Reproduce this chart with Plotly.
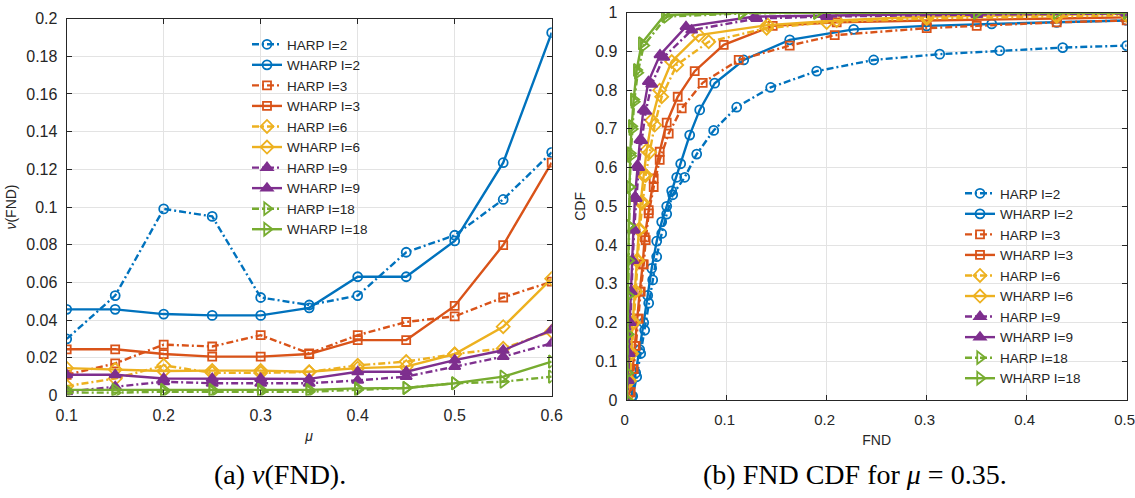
import plotly.graph_objects as go

# ---------------- data: left panel nu(FND) vs mu ----------------
mu = [0.1, 0.15, 0.2, 0.25, 0.3, 0.35, 0.4, 0.45, 0.5, 0.55, 0.6]
harp_2 = [0.030, 0.053, 0.099, 0.095, 0.052, 0.048, 0.053, 0.076, 0.085, 0.104, 0.129]
wharp_2 = [0.0457, 0.0457, 0.0432, 0.0425, 0.0425, 0.0465, 0.063, 0.063, 0.082, 0.1235, 0.1925]
harp_3 = [0.011, 0.017, 0.027, 0.026, 0.032, 0.0224, 0.032, 0.039, 0.042, 0.052, 0.0604]
wharp_3 = [0.0245, 0.0245, 0.022, 0.0206, 0.0206, 0.022, 0.0294, 0.0294, 0.0475, 0.0798, 0.1235]
harp_6 = [0.005, 0.009, 0.016, 0.012, 0.012, 0.0125, 0.016, 0.018, 0.022, 0.025, 0.034]
wharp_6 = [0.0145, 0.0138, 0.013, 0.0132, 0.0132, 0.0126, 0.0145, 0.0153, 0.022, 0.0365, 0.062]
harp_9 = [0.002, 0.0047, 0.0073, 0.0065, 0.0065, 0.0065, 0.008, 0.010, 0.0153, 0.0206, 0.0277]
wharp_9 = [0.011, 0.011, 0.009, 0.009, 0.009, 0.0088, 0.0126, 0.0126, 0.0188, 0.024, 0.0347]
harp_18 = [0.0015, 0.0015, 0.002, 0.002, 0.002, 0.002, 0.003, 0.004, 0.0065, 0.0073, 0.010]
wharp_18 = [0.003, 0.003, 0.003, 0.003, 0.003, 0.003, 0.0038, 0.004, 0.0065, 0.010, 0.018]

# ---------------- data: right panel CDF of FND ----------------
cdf_x_harp_2 = [0, 0.006, 0.010, 0.014, 0.018, 0.022, 0.026, 0.030, 0.035, 0.040, 0.046, 0.058, 0.070, 0.087, 0.110, 0.144, 0.190, 0.247, 0.313, 0.373, 0.436, 0.5]
cdf_y_harp_2 = [0, 0.01, 0.06, 0.12, 0.18, 0.25, 0.31, 0.37, 0.43, 0.48, 0.53, 0.575, 0.635, 0.696, 0.756, 0.807, 0.849, 0.878, 0.893, 0.902, 0.910, 0.915]
cdf_x_wharp_2 = [0, 0.005, 0.009, 0.013, 0.017, 0.021, 0.025, 0.030, 0.035, 0.040, 0.045, 0.050, 0.054, 0.063, 0.073, 0.088, 0.117, 0.163, 0.227, 0.300, 0.365, 0.430, 0.5]
cdf_y_wharp_2 = [0, 0.01, 0.07, 0.13, 0.20, 0.27, 0.34, 0.41, 0.46, 0.50, 0.54, 0.575, 0.61, 0.684, 0.749, 0.818, 0.878, 0.930, 0.957, 0.966, 0.971, 0.975, 0.980]
cdf_x_harp_3 = [0, 0.004, 0.007, 0.009, 0.012, 0.014, 0.017, 0.019, 0.022, 0.027, 0.033, 0.042, 0.055, 0.076, 0.112, 0.163, 0.208, 0.300, 0.350, 0.430, 0.5]
cdf_y_harp_3 = [0, 0.02, 0.08, 0.14, 0.21, 0.28, 0.35, 0.413, 0.482, 0.55, 0.62, 0.688, 0.753, 0.819, 0.878, 0.915, 0.942, 0.960, 0.966, 0.975, 0.980]
cdf_x_wharp_3 = [0, 0.003, 0.006, 0.008, 0.011, 0.013, 0.016, 0.018, 0.022, 0.027, 0.033, 0.040, 0.051, 0.068, 0.097, 0.146, 0.210, 0.300, 0.430, 0.5]
cdf_y_wharp_3 = [0, 0.02, 0.08, 0.14, 0.21, 0.28, 0.35, 0.42, 0.49, 0.572, 0.641, 0.716, 0.783, 0.849, 0.917, 0.966, 0.975, 0.980, 0.985, 0.988]
cdf_x_harp_6 = [0, 0.003, 0.005, 0.007, 0.009, 0.011, 0.013, 0.016, 0.019, 0.023, 0.028, 0.035, 0.050, 0.082, 0.140, 0.200, 0.300, 0.430, 0.5]
cdf_y_harp_6 = [0, 0.05, 0.12, 0.20, 0.28, 0.36, 0.44, 0.51, 0.58, 0.64, 0.71, 0.783, 0.865, 0.925, 0.960, 0.975, 0.985, 0.990, 0.993]
cdf_x_wharp_6 = [0, 0.002, 0.004, 0.006, 0.008, 0.010, 0.012, 0.014, 0.017, 0.020, 0.025, 0.033, 0.045, 0.072, 0.141, 0.210, 0.300, 0.430, 0.5]
cdf_y_wharp_6 = [0, 0.05, 0.12, 0.20, 0.28, 0.36, 0.44, 0.51, 0.58, 0.645, 0.722, 0.80, 0.874, 0.942, 0.968, 0.980, 0.990, 0.995, 0.997]
cdf_x_harp_9 = [0, 0.0015, 0.0025, 0.0035, 0.0045, 0.006, 0.0075, 0.0095, 0.012, 0.015, 0.019, 0.025, 0.037, 0.065, 0.130, 0.200, 0.350, 0.5]
cdf_y_harp_9 = [0, 0.05, 0.12, 0.20, 0.28, 0.36, 0.44, 0.52, 0.60, 0.67, 0.745, 0.815, 0.885, 0.955, 0.985, 0.990, 0.995, 0.998]
cdf_x_wharp_9 = [0, 0.001, 0.002, 0.003, 0.004, 0.005, 0.0067, 0.0083, 0.0107, 0.0133, 0.0167, 0.0217, 0.0333, 0.0593, 0.128, 0.200, 0.350, 0.5]
cdf_y_wharp_9 = [0, 0.05, 0.12, 0.20, 0.28, 0.36, 0.438, 0.525, 0.606, 0.672, 0.749, 0.822, 0.891, 0.964, 0.990, 0.993, 0.998, 1.0]
cdf_x_harp_18 = [0, 0.0007, 0.0012, 0.0015, 0.0019, 0.0024, 0.003, 0.004, 0.0055, 0.0075, 0.011, 0.017, 0.040, 0.115, 0.190, 0.350, 0.5]
cdf_y_harp_18 = [0, 0.07, 0.17, 0.27, 0.36, 0.45, 0.55, 0.63, 0.70, 0.77, 0.845, 0.915, 0.990, 0.998, 1.0, 1.0, 1.0]
cdf_x_wharp_18 = [0, 0.0005, 0.001, 0.0013, 0.0016, 0.002, 0.0025, 0.0035, 0.005, 0.007, 0.010, 0.015, 0.038, 0.115, 0.190, 0.350, 0.430, 0.5]
cdf_y_wharp_18 = [0, 0.07, 0.17, 0.27, 0.36, 0.45, 0.55, 0.637, 0.707, 0.776, 0.852, 0.921, 0.994, 1.0, 1.0, 1.0, 1.0, 1.0]

series_names = ["HARP I=2", "WHARP I=2", "HARP I=3", "WHARP I=3", "HARP I=6",
                "WHARP I=6", "HARP I=9", "WHARP I=9", "HARP I=18", "WHARP I=18"]

left_ticks = [0, 0.02, 0.04, 0.06, 0.08, 0.1, 0.12, 0.14, 0.16, 0.18, 0.2]
left_ticktext = ["0", "0.02", "0.04", "0.06", "0.08", "0.1", "0.12", "0.14", "0.16", "0.18", "0.2"]
mu_ticks = [0.1, 0.2, 0.3, 0.4, 0.5, 0.6]
mu_ticktext = ["0.1", "0.2", "0.3", "0.4", "0.5", "0.6"]
fnd_ticks = [0, 0.1, 0.2, 0.3, 0.4, 0.5]
fnd_ticktext = ["0", "0.1", "0.2", "0.3", "0.4", "0.5"]
cdf_ticks = [0, 0.1, 0.2, 0.3, 0.4, 0.5, 0.6, 0.7, 0.8, 0.9, 1]
cdf_ticktext = ["0", "0.1", "0.2", "0.3", "0.4", "0.5", "0.6", "0.7", "0.8", "0.9", "1"]

# ---------------- styling ----------------
colors = ["#0072BD", "#D95319", "#EDB120", "#7E2F8E", "#77AC30"]
symbols = ["circle-open", "square-open", "diamond-open", "triangle-up", "triangle-right-open"]
msizes = [9, 8, 10, 10, 11]
DASHDOT = "7px,3px,2px,3px"

left_series = [harp_2, wharp_2, harp_3, wharp_3, harp_6, wharp_6, harp_9, wharp_9, harp_18, wharp_18]
right_series = [
    (cdf_x_harp_2, cdf_y_harp_2), (cdf_x_wharp_2, cdf_y_wharp_2),
    (cdf_x_harp_3, cdf_y_harp_3), (cdf_x_wharp_3, cdf_y_wharp_3),
    (cdf_x_harp_6, cdf_y_harp_6), (cdf_x_wharp_6, cdf_y_wharp_6),
    (cdf_x_harp_9, cdf_y_harp_9), (cdf_x_wharp_9, cdf_y_wharp_9),
    (cdf_x_harp_18, cdf_y_harp_18), (cdf_x_wharp_18, cdf_y_wharp_18),
]

fig = go.Figure()

for i, name in enumerate(series_names):
    g = i // 2
    dash = DASHDOT if i % 2 == 0 else "solid"
    fig.add_trace(go.Scatter(
        x=mu, y=left_series[i], name=name, mode="lines+markers",
        xaxis="x", yaxis="y", legend="legend",
        line=dict(color=colors[g], width=2.4, dash=dash),
        marker=dict(symbol=symbols[g], size=msizes[g], color=colors[g],
                    line=dict(color=colors[g], width=1.8)),
    ))

for i, name in enumerate(series_names):
    g = i // 2
    dash = DASHDOT if i % 2 == 0 else "solid"
    xs, ys = right_series[i]
    fig.add_trace(go.Scatter(
        x=xs, y=ys, name=name, mode="lines+markers",
        xaxis="x2", yaxis="y2", legend="legend2",
        line=dict(color=colors[g], width=2.4, dash=dash),
        marker=dict(symbol=symbols[g], size=msizes[g], color=colors[g],
                    line=dict(color=colors[g], width=1.8)),
    ))

W, H = 1135, 498
axcol = "#262626"
gridcol = "#e3e3e3"
tickfont = dict(family="Liberation Sans, Arial, sans-serif", size=16, color=axcol)
tickfont_x2 = dict(family="Liberation Sans, Arial, sans-serif", size=15, color=axcol)

common = dict(showline=True, linecolor=axcol, linewidth=1.2, mirror="allticks",
              ticks="inside", ticklen=5, tickcolor=axcol, tickwidth=1,
              showgrid=True, gridcolor=gridcol, gridwidth=1, zeroline=False,
              automargin=False, ticklabeloverflow="allow")

fig.update_layout(
    width=W, height=H,
    margin=dict(l=0, r=0, t=0, b=0),
    paper_bgcolor="white", plot_bgcolor="white",
    font=dict(family="Liberation Sans, Arial, sans-serif", color=axcol),
    xaxis=dict(domain=[66.7 / W, 551.7 / W], range=[0.1, 0.6],
               tickvals=mu_ticks, ticktext=mu_ticktext, anchor="y",
               ticklabelstandoff=5, tickfont=tickfont,
               title=dict(text="<i>μ</i>", font=dict(size=14, color=axcol), standoff=8),
               **common),
    yaxis=dict(domain=[(H - 395.5) / H, (H - 18.5) / H], range=[0, 0.2],
               tickvals=left_ticks, ticktext=left_ticktext, anchor="x",
               ticklabelstandoff=5, tickfont=tickfont,
               title=dict(text="<i>ν</i>(FND)", font=dict(size=14, color=axcol), standoff=6),
               **common),
    xaxis2=dict(domain=[626.7 / W, 1126.7 / W], range=[0, 0.5],
                tickvals=fnd_ticks, ticktext=fnd_ticktext, anchor="y2",
                ticklabelstandoff=6, tickfont=tickfont_x2, ticklabelshift=-2,
                title=dict(text="FND", font=dict(size=14, color=axcol), standoff=8),
                **common),
    yaxis2=dict(domain=[(H - 400) / H, (H - 12.7) / H], range=[0, 1],
                tickvals=cdf_ticks, ticktext=cdf_ticktext, anchor="x2",
                ticklabelstandoff=5, tickfont=tickfont,
                title=dict(text="CDF", font=dict(size=14, color=axcol), standoff=6),
                **common),
    legend=dict(x=247 / W, y=(H - 29) / H, xanchor="left", yanchor="top",
                bgcolor="rgba(0,0,0,0)", borderwidth=0,
                font=dict(size=13.5, color=axcol), tracegroupgap=0),
    legend2=dict(x=960 / W, y=(H - 178) / H, xanchor="left", yanchor="top",
                 bgcolor="rgba(0,0,0,0)", borderwidth=0,
                 font=dict(size=13.5, color=axcol), tracegroupgap=0),
    showlegend=True,
)

caption_font = dict(family="Liberation Serif, Times New Roman, serif", size=28, color="black")
fig.add_annotation(text="(a) <i>ν</i>(FND).", x=280 / W, y=(H - 474) / H,
                   xref="paper", yref="paper", showarrow=False,
                   xanchor="center", yanchor="middle", font=caption_font)
fig.add_annotation(text="(b) FND CDF for <i>μ</i> = 0.35.", x=855 / W, y=(H - 474) / H,
                   xref="paper", yref="paper", showarrow=False,
                   xanchor="center", yanchor="middle", font=caption_font)

fig.write_html("out.html")
